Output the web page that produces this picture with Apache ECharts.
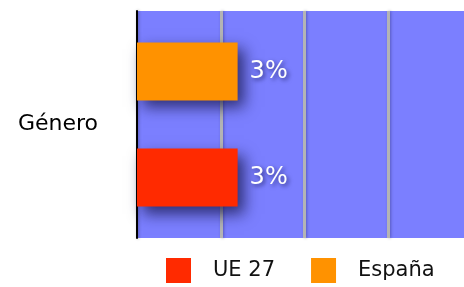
<!DOCTYPE html>
<html>
<head>
<meta charset="utf-8">
<script src="https://cdn.jsdelivr.net/npm/echarts@6/dist/echarts.min.js"></script>
<style>
  html, body { margin: 0; padding: 0; background: #fff; }
  #chart { width: 464px; height: 287px; }
</style>
</head>
<body>
<div id="chart"></div>
<script>
// datos
var categories = ['Género'];
var seriesNames = ['UE 27', 'España'];
var ue27 = [3];
var espana = [3];
var colors = ['#FF2A00', '#FF9200'];

var chart = echarts.init(document.getElementById('chart'));

var barShadow = {
  shadowColor: 'rgba(20,20,70,0.75)',
  shadowBlur: 14,
  shadowOffsetX: 6,
  shadowOffsetY: 7
};

function makeSeries(name, data, color) {
  return {
    name: name,
    type: 'bar',
    data: data,
    barWidth: 58,
    barGap: '83%',
    itemStyle: Object.assign({ color: color }, barShadow),
    label: {
      show: true,
      position: 'right',
      distance: 12,
      formatter: '{c}%',
      color: '#fff',
      fontSize: 24,
      fontFamily: 'DejaVu Sans',
      textShadowColor: 'rgba(0,0,50,0.6)',
      textShadowBlur: 4,
      textShadowOffsetX: 2,
      textShadowOffsetY: 2
    }
  };
}

var option = {
  animation: false,
  textStyle: { fontFamily: 'DejaVu Sans' },
  color: colors,
  grid: {
    left: 137,
    top: 11,
    bottom: 49,
    right: 0,
    show: true,
    backgroundColor: '#7B7FFF',
    borderWidth: 0
  },
  legend: {
    data: seriesNames,
    left: 161,
    top: 253,
    icon: 'rect',
    itemWidth: 25,
    itemHeight: 25,
    itemGap: 36,
    textStyle: { fontSize: 21, color: '#111', fontFamily: 'DejaVu Sans', padding: [0, 0, 0, 17] }
  },
  xAxis: {
    type: 'value',
    min: 0,
    max: 9.75,
    interval: 2.5,
    axisLabel: { show: false },
    axisTick: { show: false },
    axisLine: { show: false },
    splitLine: {
      show: true,
      showMinLine: false,
      showMaxLine: false,
      lineStyle: {
        color: '#B4B4B4',
        width: 3,
        shadowColor: 'rgba(0,0,40,0.3)',
        shadowBlur: 3,
        shadowOffsetX: 1
      }
    }
  },
  yAxis: {
    type: 'category',
    data: categories,
    axisTick: { show: false },
    axisLine: {
      show: true,
      lineStyle: {
        color: '#000',
        width: 2,
        shadowColor: 'rgba(0,0,0,0.3)',
        shadowBlur: 3,
        shadowOffsetX: 1
      }
    },
    axisLabel: {
      fontSize: 22,
      color: '#000',
      margin: 39
    }
  },
  // la primera serie se dibuja arriba
  series: [
    makeSeries(seriesNames[1], espana, colors[1]),
    makeSeries(seriesNames[0], ue27, colors[0])
  ]
};

chart.setOption(option);
</script>
</body>
</html>
